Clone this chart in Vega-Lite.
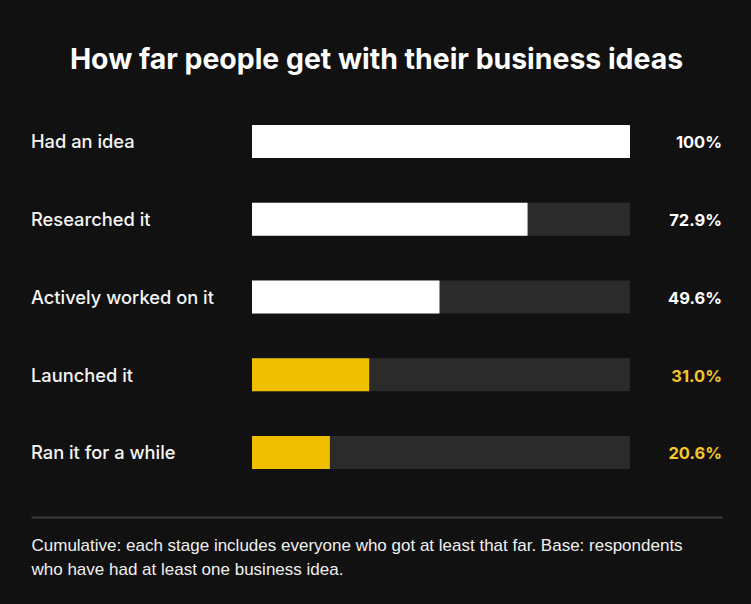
{
  "$schema": "https://vega.github.io/schema/vega-lite/v6.json",
  "autosize": {"type": "none"},
  "padding": {"left": 31, "top": 102.6, "right": 29, "bottom": 112.65},
  "width": 691,
  "height": 388.75,
  "background": "#111111",
  "title": {
    "text": "How far people get with their business ideas",
    "anchor": "middle",
    "font": "Inter",
    "fontSize": 28.4,
    "fontWeight": 700,
    "color": "#ffffff",
    "offset": 27
  },
  "config": {"view": {"stroke": null}},
  "data": {
    "values": [
      {"stage": "Had an idea", "value": 100, "label": "100%"},
      {"stage": "Researched it", "value": 72.9, "label": "72.9%"},
      {"stage": "Actively worked on it", "value": 49.6, "label": "49.6%"},
      {"stage": "Launched it", "value": 31.0, "label": "31.0%"},
      {"stage": "Ran it for a while", "value": 20.6, "label": "20.6%"}
    ]
  },
  "encoding": {
    "y": {
      "field": "stage",
      "type": "nominal",
      "sort": null,
      "scale": {"paddingInner": 0.576, "paddingOuter": 0.288},
      "axis": null
    }
  },
  "layer": [
    {
      "mark": {"type": "bar", "color": "#2b2b2b"},
      "encoding": {
        "x": {
          "datum": 0,
          "type": "quantitative",
          "scale": {"domain": [-58.47, 124.34], "nice": false, "zero": false},
          "axis": {
            "orient": "bottom",
            "offset": 25.6,
            "domain": true,
            "domainColor": "#3d3d3d",
            "domainWidth": 2,
            "labels": false,
            "ticks": false,
            "grid": false,
            "title": ["Cumulative: each stage includes everyone who got at least that far. Base: respondents", "who have had at least one business idea."],
            "titleX": 0,
            "titleY": 34,
            "titleAlign": "left",
            "titleAnchor": "start",
            "titleBaseline": "alphabetic",
            "titleFont": "Liberation Sans",
            "titleFontSize": 17,
            "titleFontWeight": 400,
            "titleLineHeight": 24,
            "titleColor": "#f0f0f0"
          }
        },
        "x2": {"datum": 100}
      }
    },
    {
      "mark": {"type": "bar"},
      "encoding": {
        "x": {"field": "value", "type": "quantitative"},
        "x2": {"datum": 0},
        "color": {
          "condition": {"test": "datum.value < 40", "value": "#f0bf00"},
          "value": "#ffffff"
        }
      }
    },
    {
      "mark": {"type": "text", "align": "left", "baseline": "middle", "dy": 2, "font": "Inter", "fontSize": 18.3, "fontWeight": 500, "color": "#f5f5f5"},
      "encoding": {
        "x": {"datum": -58.47, "type": "quantitative"},
        "text": {"field": "stage"}
      }
    },
    {
      "mark": {"type": "text", "align": "right", "baseline": "middle", "dy": 2, "font": "Inter", "fontSize": 16.5, "fontWeight": 700},
      "encoding": {
        "x": {"datum": 124.34, "type": "quantitative"},
        "text": {"field": "label"},
        "color": {
          "condition": {"test": "datum.value < 40", "value": "#f5c62a"},
          "value": "#ffffff"
        }
      }
    }
  ]
}
